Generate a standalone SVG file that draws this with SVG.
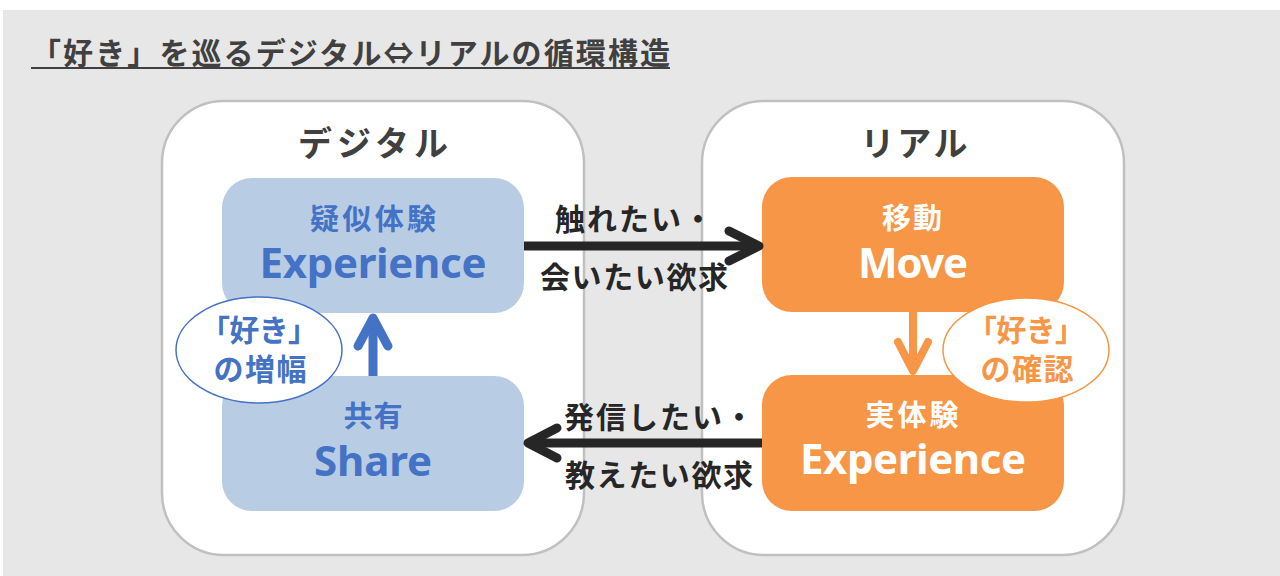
<svg xmlns="http://www.w3.org/2000/svg" width="1280" height="576" viewBox="0 0 1280 576">
<style>
.jp{font-family:"Noto Sans CJK JP","Noto Sans",sans-serif;font-weight:bold}
.en{font-family:"Noto Sans","Liberation Sans",sans-serif;font-weight:bold}
.panel{fill:#ffffff;stroke:#c0c0c0;stroke-width:2.5}
.blue{fill:#b8cce4}
.orange{fill:#f79646}
.bt{fill:#4472c4}
.wt{fill:#ffffff}
.ot{fill:#f79646}
.dk{fill:#262626}
.hd{fill:#404040}
.arr{fill:none;stroke-linecap:round;stroke-linejoin:round}
</style>
<rect x="0" y="0" width="1280" height="576" fill="#ffffff"/>
<rect x="3" y="10" width="1277" height="566" fill="#e7e7e7"/>
<g id="title">
<text class="jp hd" x="31" y="64" font-size="30" textLength="639">「好き」を巡るデジタル⇔リアルの循環構造</text>
<rect x="31" y="67" width="639" height="2" fill="#404040"/>
</g>
<g id="digital">
<rect class="panel" x="162" y="101" width="422" height="454" rx="62"/>
<text class="jp hd" x="373" y="156" font-size="34" text-anchor="middle" textLength="150">デジタル</text>
</g>
<g id="real">
<rect class="panel" x="702" y="101" width="422" height="454" rx="62"/>
<text class="jp hd" x="914" y="156" font-size="34" text-anchor="middle" textLength="107">リアル</text>
</g>
<g id="virtual-experience">
<rect class="blue" x="222" y="178" width="302" height="135" rx="30"/>
<text class="jp bt" x="373" y="230" font-size="29" text-anchor="middle" textLength="126">疑似体験</text>
<text class="en bt" x="373" y="278" font-size="42" text-anchor="middle" textLength="227">Experience</text>
</g>
<g id="share">
<rect class="blue" x="222" y="376" width="302" height="135" rx="30"/>
<text class="jp bt" x="373" y="427" font-size="29" text-anchor="middle" textLength="59">共有</text>
<text class="en bt" x="373" y="476" font-size="42" text-anchor="middle" textLength="118">Share</text>
</g>
<g id="move">
<rect class="orange" x="762" y="177" width="302" height="135" rx="30"/>
<text class="jp wt" x="912" y="229" font-size="29" text-anchor="middle" textLength="60">移動</text>
<text class="en wt" x="913" y="278" font-size="42" text-anchor="middle" textLength="110">Move</text>
</g>
<g id="real-experience">
<rect class="orange" x="762" y="375" width="302" height="136" rx="30"/>
<text class="jp wt" x="912" y="426" font-size="29" text-anchor="middle" textLength="93">実体験</text>
<text class="en wt" x="913" y="474" font-size="42" text-anchor="middle" textLength="226">Experience</text>
</g>
<g id="connectors">
<g class="arr" stroke="#262626" stroke-width="9">
<line x1="524" y1="246" x2="758" y2="246" stroke-linecap="butt"/>
<polyline points="729,231 759,246 729,261"/>
<line x1="762" y1="443" x2="529" y2="443" stroke-linecap="butt"/>
<polyline points="557,428 528,443 557,458"/>
</g>
<g class="arr" stroke="#4472c4" stroke-width="9">
<line x1="373" y1="376" x2="373" y2="320" stroke-linecap="butt"/>
<polyline points="358,346 373,318 388,346"/>
</g>
<g class="arr" stroke="#f79646" stroke-width="8">
<line x1="913" y1="312" x2="913" y2="370" stroke-linecap="butt"/>
<polyline points="898,342 913,371 928,342"/>
</g>
<text class="jp dk" x="634" y="230" font-size="30" text-anchor="middle" textLength="158">触れたい・</text>
<text class="jp dk" x="634" y="288" font-size="30" text-anchor="middle" textLength="188">会いたい欲求</text>
<text class="jp dk" x="659" y="428" font-size="30" text-anchor="middle" textLength="190">発信したい・</text>
<text class="jp dk" x="659" y="486" font-size="30" text-anchor="middle" textLength="188">教えたい欲求</text>
</g>
<g id="amplify">
<ellipse cx="259" cy="350" rx="83" ry="53" fill="#ffffff" stroke="#4472c4" stroke-width="1.5"/>
<text class="jp bt" x="259" y="341" font-size="30" text-anchor="middle" textLength="118">「好き」</text>
<text class="jp bt" x="260" y="380" font-size="30" text-anchor="middle" textLength="93">の増幅</text>
</g>
<g id="confirm">
<ellipse cx="1026" cy="350" rx="83" ry="52" fill="#ffffff" stroke="#f79646" stroke-width="1.5"/>
<text class="jp ot" x="1026" y="341" font-size="30" text-anchor="middle" textLength="118">「好き」</text>
<text class="jp ot" x="1027" y="380" font-size="30" text-anchor="middle" textLength="93">の確認</text>
</g>
</svg>
